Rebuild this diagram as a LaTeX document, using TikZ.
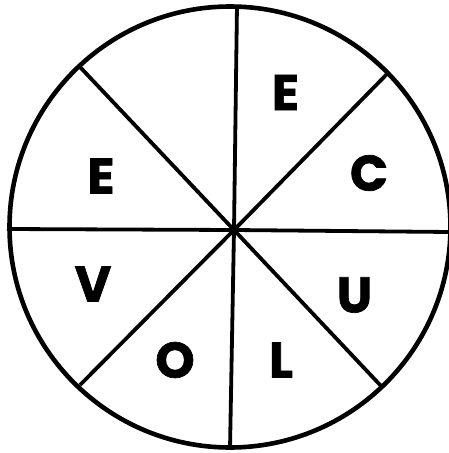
\documentclass[tikz,border=0pt]{standalone}
\usepackage{fontspec}
\newfontfamily\letterfont{Poppins}[BoldFeatures={FakeBold=1.4}]
\begin{document}
\begin{tikzpicture}[x=1pt,y=-1pt,
  rim/.style={line width=4.6pt},
  spoke/.style={line width=3.8pt},
  letter/.style={font=\letterfont\bfseries\fontsize{50}{50}\selectfont, inner sep=0pt, anchor=center}]
\useasboundingbox (0,0) rectangle (448,453);
\coordinate (o) at (234,230);
\coordinate (cc) at (230,227);
\coordinate (t) at (237,5);
\coordinate (b) at (230,449);
\coordinate (l) at (7,229);
\coordinate (r) at (450,232);
\coordinate (ul) at (80,67);
\coordinate (lr) at (382,387);
\coordinate (ur) at (387,74);
\coordinate (ll) at (80,385);
\draw[rim] (cc) circle[radius=220.5];
\draw[spoke] (t) -- (o) -- (b);
\draw[spoke] (l) -- (o) -- (r);
\draw[spoke] (ul) -- (o) -- (lr);
\draw[spoke] (ur) -- (o) -- (ll);
\node[letter] (e1) at (285.5,92.5) {E};
\node[letter] (c) at (369,173) {C};
\node[letter] (u) at (354.5,295) {U};
\node[letter] (lt) at (281,360) {L};
\node[letter] (ot) at (175,360) {O};
\node[letter] (v) at (93,284) {V};
\node[letter] (e2) at (101,176) {E};
\end{tikzpicture}
\end{document}
